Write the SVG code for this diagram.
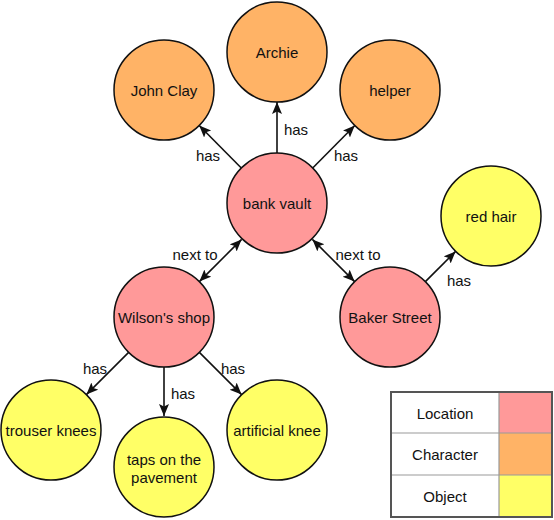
<svg xmlns="http://www.w3.org/2000/svg" width="554" height="520" viewBox="0 0 554 520">
<style>
text{font-family:"Liberation Sans",Arial,sans-serif;font-size:15px;fill:#111;text-anchor:middle;dominant-baseline:central}
.n{stroke:#111;stroke-width:1.5}
.loc{fill:#ff9999}.chr{fill:#ffb366}.obj{fill:#ffff66}
.e{stroke:#111;stroke-width:1.6;fill:none}
</style>
<defs>
<marker id="ah" markerWidth="13" markerHeight="11" refX="12" refY="5" orient="auto-start-reverse" markerUnits="userSpaceOnUse">
<path d="M0,0 L12,5 L0,10 L2.5,5 z" fill="#111"/>
</marker>
</defs>
<rect width="554" height="520" fill="#fff"/>
<g id="connectors">
<line class="e" x1="241.8" y1="168.5" x2="199.2" y2="125.5" marker-end="url(#ah)"/>
<line class="e" x1="277" y1="154" x2="277" y2="102" marker-end="url(#ah)"/>
<line class="e" x1="312.2" y1="168.5" x2="354.8" y2="125.5" marker-end="url(#ah)"/>
<line class="e" x1="241.6" y1="239.4" x2="199.4" y2="281.6" marker-start="url(#ah)" marker-end="url(#ah)"/>
<line class="e" x1="312.4" y1="239.4" x2="354.6" y2="281.6" marker-start="url(#ah)" marker-end="url(#ah)"/>
<line class="e" x1="425.4" y1="281.6" x2="455.6" y2="251.4" marker-end="url(#ah)"/>
<line class="e" x1="128.6" y1="352.4" x2="86.4" y2="394.6" marker-end="url(#ah)"/>
<line class="e" x1="164" y1="367" x2="164" y2="416" marker-end="url(#ah)"/>
<line class="e" x1="199.4" y1="352.4" x2="241.6" y2="394.6" marker-end="url(#ah)"/>
<text x="208" y="155">has</text>
<text x="296" y="129">has</text>
<text x="346" y="155">has</text>
<text x="195" y="254">next to</text>
<text x="358" y="254">next to</text>
<text x="459" y="280">has</text>
<text x="95" y="368">has</text>
<text x="183" y="393">has</text>
<text x="233" y="368">has</text>
</g>
<g id="archie"><circle class="n chr" cx="277" cy="52" r="50"/><text x="277" y="52">Archie</text></g>
<g id="john-clay"><circle class="n chr" cx="164" cy="90" r="50"/><text x="164" y="90">John Clay</text></g>
<g id="helper"><circle class="n chr" cx="390" cy="90" r="50"/><text x="390" y="90">helper</text></g>
<g id="bank-vault"><circle class="n loc" cx="277" cy="203" r="50"/><text x="277" y="203">bank vault</text></g>
<g id="red-hair"><circle class="n obj" cx="491" cy="216" r="50"/><text x="491" y="216">red hair</text></g>
<g id="wilsons-shop"><circle class="n loc" cx="164" cy="317" r="50"/><text x="164" y="317">Wilson's shop</text></g>
<g id="baker-street"><circle class="n loc" cx="390" cy="317" r="50"/><text x="390" y="317">Baker Street</text></g>
<g id="trouser-knees"><circle class="n obj" cx="51" cy="430" r="50"/><text x="51" y="430">trouser knees</text></g>
<g id="taps"><circle class="n obj" cx="164" cy="467" r="50"/><text x="164" y="459">taps on the</text><text x="164" y="477">pavement</text></g>
<g id="artificial-knee"><circle class="n obj" cx="277" cy="430" r="50"/><text x="277" y="430">artificial knee</text></g>
<g id="legend">
<rect x="391" y="392" width="161" height="125" fill="#fff"/>
<rect x="499" y="392" width="53" height="41" class="loc"/>
<rect x="499" y="433" width="53" height="42" class="chr"/>
<rect x="499" y="475" width="53" height="42" class="obj"/>
<g stroke="#999" stroke-width="1.2">
<line x1="391" y1="433" x2="552" y2="433"/>
<line x1="391" y1="475" x2="552" y2="475"/>
<line x1="499" y1="392" x2="499" y2="517"/>
</g>
<rect x="391" y="392" width="161" height="125" fill="none" stroke="#555" stroke-width="2"/>
<text x="445" y="413">Location</text>
<text x="445" y="454">Character</text>
<text x="445" y="496">Object</text>
</g>
</svg>
